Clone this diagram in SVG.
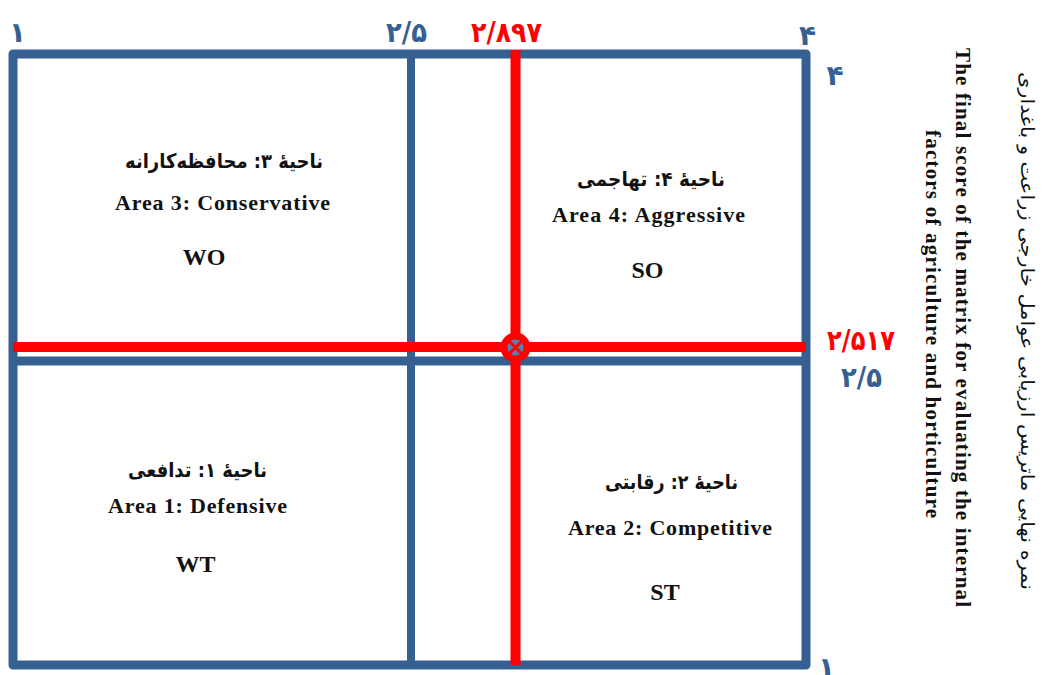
<svg xmlns="http://www.w3.org/2000/svg" width="1044" height="675" viewBox="0 0 1044 675">
<style>
.bl{stroke:#376092;fill:none}
.rd{stroke:#ff0000;fill:none}
.en{font-family:"Liberation Serif","Times New Roman",serif;font-weight:bold;fill:#111;text-anchor:middle}
.fa{font-family:"DejaVu Sans",sans-serif;font-weight:bold;fill:#111;text-anchor:middle}
.num{font-family:"DejaVu Sans",sans-serif;font-weight:bold;text-anchor:middle}
.nb{fill:#376092}
.nr{fill:#ff0000}
</style>
<rect width="1044" height="675" fill="#fff"/>
<g id="grid">
<rect class="bl" x="13" y="54" width="793" height="611" stroke-width="9" stroke-linejoin="round"/>
<line class="bl" x1="411" y1="54" x2="411" y2="665" stroke-width="8"/>
<line class="bl" x1="13" y1="361" x2="806" y2="361" stroke-width="9"/>
</g>
<g id="connectors">
<line class="rd" x1="515.5" y1="50" x2="515.5" y2="665" stroke-width="10"/>
<line class="rd" x1="13" y1="347" x2="806" y2="347" stroke-width="10"/>
</g>
<g id="point">
<circle cx="515.5" cy="347.5" r="15" fill="#ff0000"/>
<circle cx="515.5" cy="347.5" r="8" fill="#5b7fb2"/>
<line x1="509.5" y1="341.5" x2="521.5" y2="353.5" stroke="#ff0000" stroke-width="3"/>
<line x1="521.5" y1="341.5" x2="509.5" y2="353.5" stroke="#ff0000" stroke-width="3"/>
</g>
<g id="axis-labels">
<text class="num nb" x="17.5" y="42" font-size="28">۱</text>
<text class="num nb" x="406.5" y="42" font-size="28" textLength="41" lengthAdjust="spacingAndGlyphs">۲/۵</text>
<text class="num nr" x="506.5" y="42" font-size="28" textLength="71" lengthAdjust="spacingAndGlyphs">۲/۸۹۷</text>
<text class="num nb" x="807.5" y="45" font-size="28">۴</text>
<text class="num nb" x="835" y="85" font-size="28">۴</text>
<text class="num nr" x="861" y="350" font-size="28" textLength="68" lengthAdjust="spacingAndGlyphs">۲/۵۱۷</text>
<text class="num nb" x="861.5" y="387" font-size="28" textLength="41" lengthAdjust="spacingAndGlyphs">۲/۵</text>
<text class="num nb" x="826.5" y="677" font-size="28">۱</text>
</g>
<g id="area3">
<text class="fa" x="224" y="168" font-size="20" direction="rtl" textLength="198" lengthAdjust="spacingAndGlyphs">ناحیهٔ ۳: محافظه‌کارانه</text>
<text class="en" x="222.5" y="210" font-size="22" textLength="215">Area 3: Conservative</text>
<text class="en" x="204" y="265" font-size="24">WO</text>
</g>
<g id="area4">
<text class="fa" x="651" y="186" font-size="20" direction="rtl" textLength="148" lengthAdjust="spacingAndGlyphs">ناحیهٔ ۴: تهاجمی</text>
<text class="en" x="648.5" y="222" font-size="22" textLength="193">Area 4: Aggressive</text>
<text class="en" x="647.5" y="278" font-size="24">SO</text>
</g>
<g id="area1">
<text class="fa" x="197.5" y="477" font-size="20" direction="rtl" textLength="139" lengthAdjust="spacingAndGlyphs">ناحیهٔ ۱: تدافعی</text>
<text class="en" x="197.5" y="513" font-size="22" textLength="179">Area 1: Defensive</text>
<text class="en" x="195.5" y="572" font-size="24">WT</text>
</g>
<g id="area2">
<text class="fa" x="671.5" y="489" font-size="20" direction="rtl" textLength="133" lengthAdjust="spacingAndGlyphs">ناحیهٔ ۲: رقابتی</text>
<text class="en" x="670" y="535" font-size="22" textLength="204">Area 2: Competitive</text>
<text class="en" x="665" y="600" font-size="24">ST</text>
</g>
<g id="titles">
<text class="en" font-size="21" transform="translate(956,327.5) rotate(90)" x="0" y="0" textLength="559">The final score of the matrix for evaluating the internal</text>
<text class="en" font-size="21" transform="translate(926,324) rotate(90)" x="0" y="0" textLength="388">factors of agriculture and horticulture</text>
<text class="fa" font-size="18" transform="translate(1021,331) rotate(90)" x="0" y="0" direction="rtl" textLength="518" lengthAdjust="spacingAndGlyphs" style="font-weight:normal">نمره نهایی ماتریس ارزیابی عوامل خارجی زراعت و باغداری</text>
</g>
</svg>
